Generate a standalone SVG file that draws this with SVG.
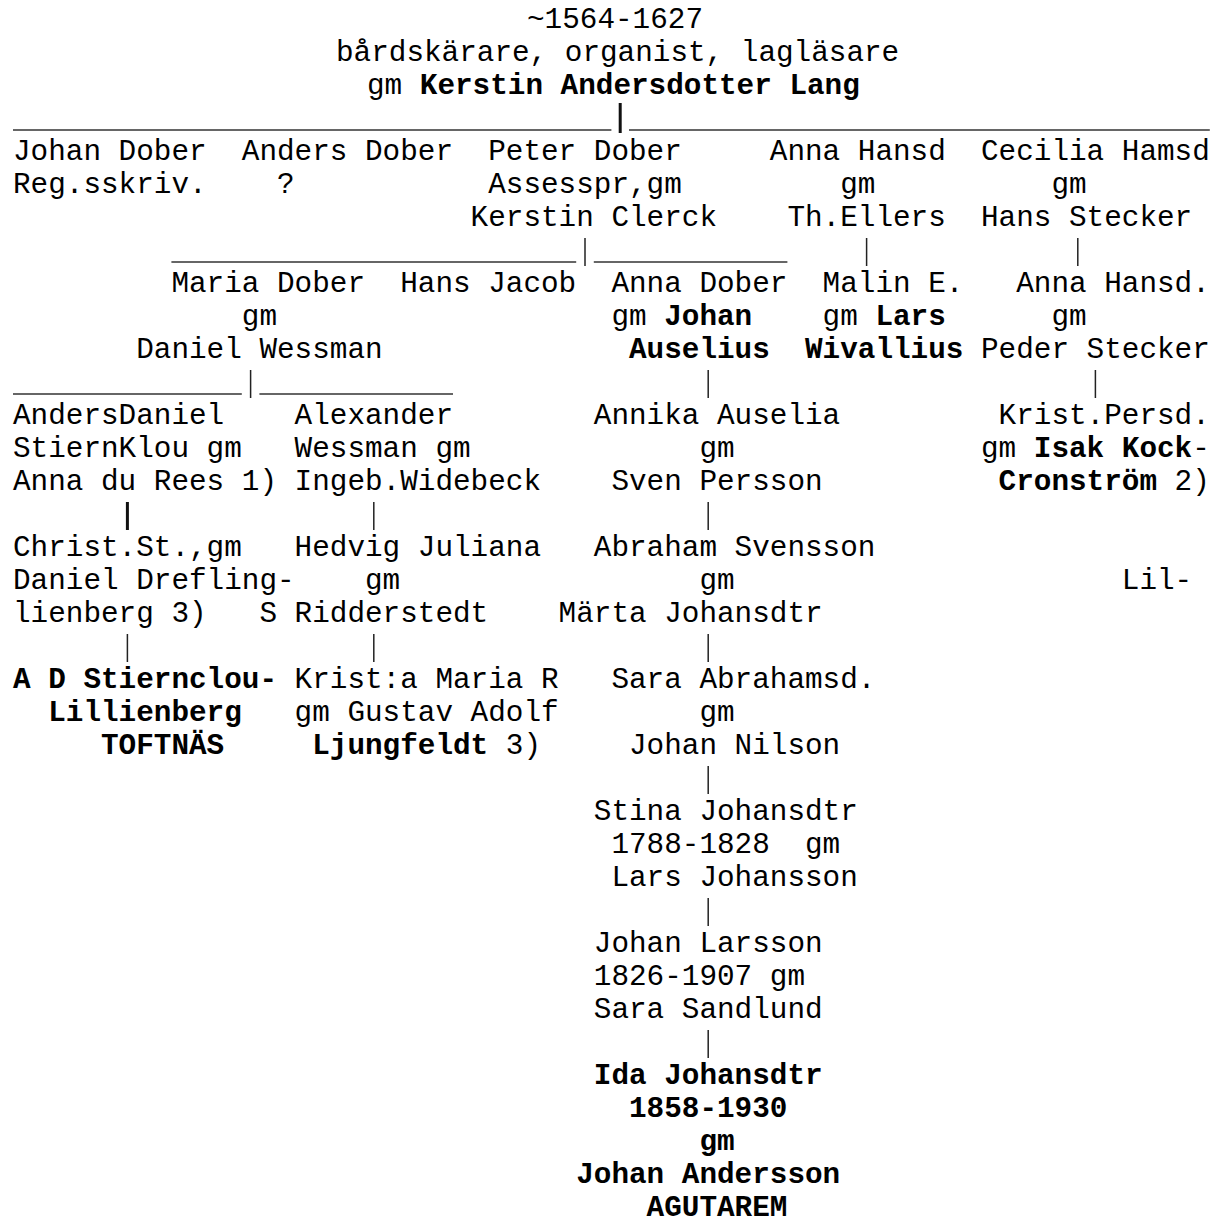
<svg xmlns="http://www.w3.org/2000/svg" width="1219" height="1225" viewBox="0 0 1219 1225" xml:space="preserve">
<style>
text{font-family:"Liberation Mono","Courier New",monospace;font-size:29.33px;fill:#000;white-space:pre}
.b{font-weight:bold}
.u{stroke:#333;stroke-width:1.5;fill:none}
.v{stroke:#222;stroke-width:1.5;fill:none}
.vb{stroke:#111;stroke-width:3;fill:none}
</style>
<rect width="1219" height="1225" fill="#fff"/>
<g id="connectors">
<line class="u" x1="13" y1="130" x2="611.4" y2="130"/>
<line class="vb" x1="620.2" y1="103" x2="620.2" y2="133"/>
<line class="u" x1="629" y1="130" x2="1209.8" y2="130"/>
<line class="u" x1="171.4" y1="262" x2="576.2" y2="262"/>
<line class="v" x1="585" y1="238" x2="585" y2="266"/>
<line class="u" x1="593.8" y1="262" x2="787.4" y2="262"/>
<line class="v" x1="866.6" y1="238" x2="866.6" y2="266"/>
<line class="v" x1="1077.8" y1="238" x2="1077.8" y2="266"/>
<line class="u" x1="13" y1="394" x2="241.8" y2="394"/>
<line class="v" x1="250.6" y1="370" x2="250.6" y2="398"/>
<line class="u" x1="259.4" y1="394" x2="453" y2="394"/>
<line class="v" x1="708.2" y1="370" x2="708.2" y2="398"/>
<line class="v" x1="1095.4" y1="370" x2="1095.4" y2="398"/>
<line class="vb" x1="127.4" y1="502" x2="127.4" y2="530"/>
<line class="v" x1="373.8" y1="502" x2="373.8" y2="530"/>
<line class="v" x1="708.2" y1="502" x2="708.2" y2="530"/>
<line class="v" x1="127.4" y1="634" x2="127.4" y2="662"/>
<line class="v" x1="373.8" y1="634" x2="373.8" y2="662"/>
<line class="v" x1="708.2" y1="634" x2="708.2" y2="662"/>
<line class="v" x1="708.2" y1="766" x2="708.2" y2="794"/>
<line class="v" x1="708.2" y1="898" x2="708.2" y2="926"/>
<line class="v" x1="708.2" y1="1030" x2="708.2" y2="1058"/>
</g>
<g id="root">
<text x="527" y="28">~1564-1627</text>
<text x="336" y="61">bårdskärare, organist, lagläsare</text>
<text x="367" y="94">gm <tspan class="b">Kerstin Andersdotter Lang</tspan></text>
</g>
<g id="johan-dober">
<text x="13" y="160">Johan Dober</text>
<text x="13" y="193">Reg.sskriv.</text>
</g>
<g id="anders-dober">
<text x="241.8" y="160">Anders Dober</text>
<text x="277" y="193">?</text>
</g>
<g id="peter-dober">
<text x="488.2" y="160">Peter Dober</text>
<text x="488.2" y="193">Assesspr,gm</text>
<text x="470.6" y="226">Kerstin Clerck</text>
</g>
<g id="anna-hansd">
<text x="769.8" y="160">Anna Hansd</text>
<text x="840.2" y="193">gm</text>
<text x="787.4" y="226">Th.Ellers</text>
</g>
<g id="cecilia-hamsd">
<text x="981" y="160">Cecilia Hamsd</text>
<text x="1051.4" y="193">gm</text>
<text x="981" y="226">Hans Stecker</text>
</g>
<g id="maria-dober">
<text x="171.4" y="292">Maria Dober</text>
<text x="241.8" y="325">gm</text>
<text x="136.2" y="358">Daniel Wessman</text>
</g>
<g id="hans-jacob">
<text x="400.2" y="292">Hans Jacob</text>
</g>
<g id="anna-dober">
<text x="611.4" y="292">Anna Dober</text>
<text x="611.4" y="325">gm <tspan class="b">Johan</tspan></text>
<text class="b" x="629" y="358">Auselius</text>
</g>
<g id="malin-e">
<text x="822.6" y="292">Malin E.</text>
<text x="822.6" y="325">gm <tspan class="b">Lars</tspan></text>
<text class="b" x="805" y="358">Wivallius</text>
</g>
<g id="anna-hansd-2">
<text x="1016.2" y="292">Anna Hansd.</text>
<text x="1051.4" y="325">gm</text>
<text x="981" y="358">Peder Stecker</text>
</g>
<g id="anders-daniel">
<text x="13" y="424">AndersDaniel</text>
<text x="13" y="457">StiernKlou gm</text>
<text x="13" y="490">Anna du Rees 1)</text>
</g>
<g id="alexander">
<text x="294.6" y="424">Alexander</text>
<text x="294.6" y="457">Wessman gm</text>
<text x="294.6" y="490">Ingeb.Widebeck</text>
</g>
<g id="annika-auselia">
<text x="593.8" y="424">Annika Auselia</text>
<text x="699.4" y="457">gm</text>
<text x="611.4" y="490">Sven Persson</text>
</g>
<g id="krist-persd">
<text x="998.6" y="424">Krist.Persd.</text>
<text x="981" y="457">gm <tspan class="b">Isak Kock</tspan>-</text>
<text x="998.6" y="490"><tspan class="b">Cronström</tspan> 2)</text>
</g>
<g id="christ-st">
<text x="13" y="556">Christ.St.,gm</text>
<text x="13" y="589">Daniel Drefling-</text>
<text x="13" y="622">lienberg 3)</text>
</g>
<g id="hedvig-juliana">
<text x="294.6" y="556">Hedvig Juliana</text>
<text x="365" y="589">gm</text>
<text x="259.4" y="622">S Ridderstedt</text>
</g>
<g id="abraham-svensson">
<text x="593.8" y="556">Abraham Svensson</text>
<text x="699.4" y="589">gm</text>
<text x="558.6" y="622">Märta Johansdtr</text>
</g>
<g id="lil">
<text x="1121.8" y="589">Lil-</text>
</g>
<g id="ad-stiernclou">
<text class="b" x="13" y="688">A D Stiernclou-</text>
<text class="b" x="48.2" y="721">Lillienberg</text>
<text class="b" x="101" y="754">TOFTNÄS</text>
</g>
<g id="krista-maria">
<text x="294.6" y="688">Krist:a Maria R</text>
<text x="294.6" y="721">gm Gustav Adolf</text>
<text x="312.2" y="754"><tspan class="b">Ljungfeldt</tspan> 3)</text>
</g>
<g id="sara-abrahamsd">
<text x="611.4" y="688">Sara Abrahamsd.</text>
<text x="699.4" y="721">gm</text>
<text x="629" y="754">Johan Nilson</text>
</g>
<g id="stina-johansdtr">
<text x="593.8" y="820">Stina Johansdtr</text>
<text x="611.4" y="853">1788-1828  gm</text>
<text x="611.4" y="886">Lars Johansson</text>
</g>
<g id="johan-larsson">
<text x="593.8" y="952">Johan Larsson</text>
<text x="593.8" y="985">1826-1907 gm</text>
<text x="593.8" y="1018">Sara Sandlund</text>
</g>
<g id="ida-johansdtr">
<text class="b" x="593.8" y="1084">Ida Johansdtr</text>
<text class="b" x="629" y="1117">1858-1930</text>
<text class="b" x="699.4" y="1150">gm</text>
<text class="b" x="576.2" y="1183">Johan Andersson</text>
<text class="b" x="646.6" y="1216">AGUTAREM</text>
</g>
</svg>
